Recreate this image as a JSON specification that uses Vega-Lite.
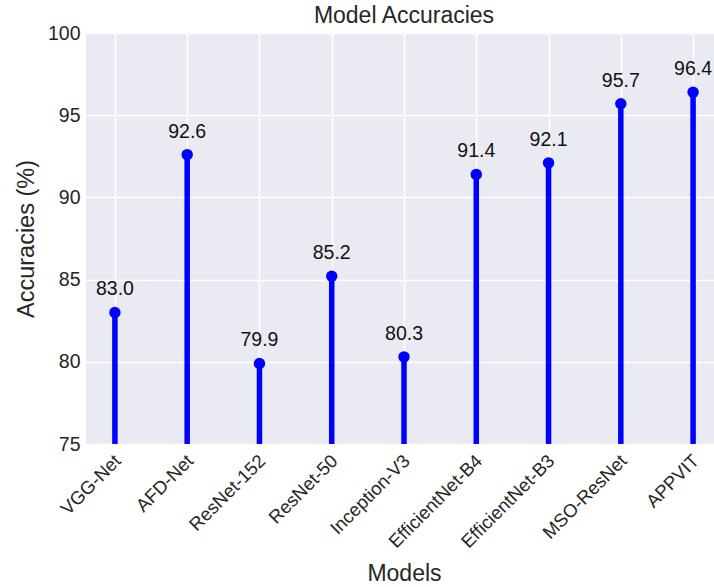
{
  "$schema": "https://vega.github.io/schema/vega-lite/v6.json",
  "autosize": "none",
  "width": 636,
  "height": 411,
  "padding": {"left": 86, "top": 33, "right": 0, "bottom": 143},
  "background": "white",
  "config": {
    "font": "Liberation Sans",
    "view": {"fill": "#EAEAF2", "stroke": null},
    "axis": {
      "domain": false,
      "ticks": false,
      "grid": true,
      "gridColor": "white",
      "gridWidth": 1.5,
      "labelColor": "#262626",
      "titleColor": "#262626",
      "labelFont": "Liberation Sans",
      "titleFont": "Liberation Sans",
      "titleFontWeight": "normal"
    },
    "title": {"font": "Liberation Sans", "fontWeight": "normal", "color": "#262626"}
  },
  "title": {"text": "Model Accuracies", "fontSize": 23, "anchor": "middle", "offset": 0, "dy": 5, "frame": "group"},
  "data": {
    "values": [
      {"model": "VGG-Net", "acc": 83.0},
      {"model": "AFD-Net", "acc": 92.6},
      {"model": "ResNet-152", "acc": 79.9},
      {"model": "ResNet-50", "acc": 85.2},
      {"model": "Inception-V3", "acc": 80.3},
      {"model": "EfficientNet-B4", "acc": 91.4},
      {"model": "EfficientNet-B3", "acc": 92.1},
      {"model": "MSO-ResNet", "acc": 95.7},
      {"model": "APPVIT", "acc": 96.4}
    ]
  },
  "encoding": {
    "x": {
      "field": "model",
      "type": "nominal",
      "sort": null,
      "scale": {"type": "point", "padding": 0.4},
      "axis": {"title": "Models", "labelAngle": -45, "labelAlign": "right", "labelBaseline": "top", "labelFontSize": 18.5, "labelPadding": 7, "labelOffset": -4, "titleFontSize": 23, "titlePadding": 11}
    },
    "y": {
      "field": "acc",
      "type": "quantitative",
      "scale": {"domain": [75, 100], "nice": false, "zero": false},
      "axis": {"title": "Accuracies (%)", "values": [75, 80, 85, 90, 95, 100], "labelFontSize": 19.5, "labelPadding": 6, "titleFontSize": 23.5, "titlePadding": 9}
    }
  },
  "layer": [
    {
      "mark": {"type": "rule", "color": "#0000FF", "strokeWidth": 5.5},
      "encoding": {"y2": {"datum": 75}}
    },
    {
      "mark": {"type": "point", "shape": "circle", "filled": true, "color": "#0000FF", "opacity": 1, "size": 130}
    },
    {
      "mark": {"type": "text", "fontSize": 19.5, "color": "#111111", "dy": -23, "baseline": "middle"},
      "encoding": {"text": {"field": "acc", "type": "quantitative", "format": ".1f"}}
    }
  ]
}
